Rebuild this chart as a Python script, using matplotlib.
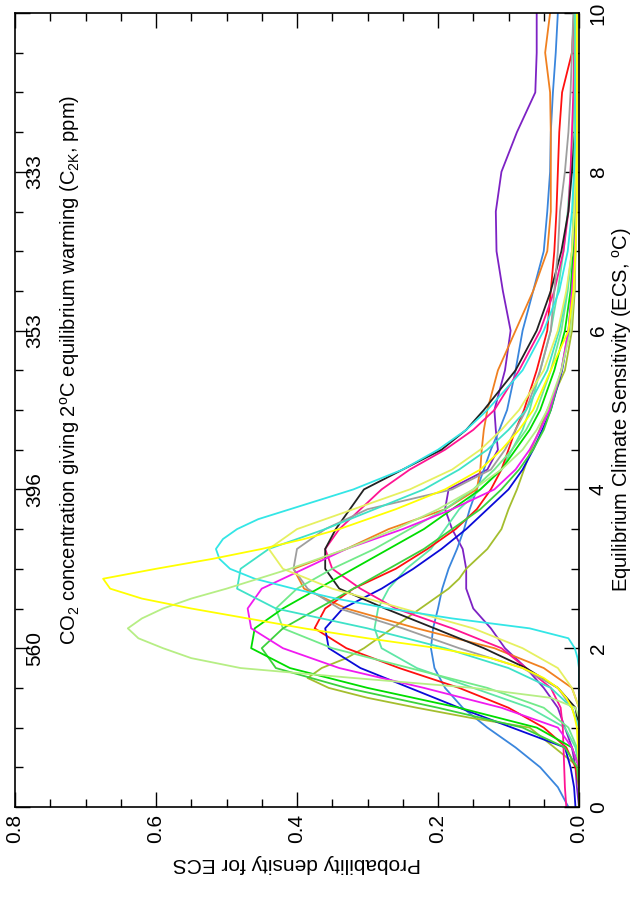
import matplotlib
matplotlib.use('Agg')
import matplotlib.pyplot as plt
import numpy as np
from matplotlib.ticker import MultipleLocator

plt.rcParams['font.family'] = ['Liberation Sans', 'DejaVu Sans']
plt.rcParams['mathtext.fontset'] = 'custom'
plt.rcParams['mathtext.rm'] = 'Liberation Sans'
plt.rcParams['mathtext.it'] = 'Liberation Sans:italic'

# ECS grids (degC): a coarse one, and a finer one for the sharply peaked curves
ecs = [0, 0.25, 0.5, 0.75, 1.0, 1.25, 1.5, 1.75, 2.0, 2.25, 2.5, 2.75, 3.0, 3.25,
       3.5, 3.75, 4.0, 4.25, 4.5, 4.75, 5.0, 5.5, 6.0, 6.5, 7.0, 7.5, 8.0, 8.5,
       9.0, 9.5, 10.0]
ecs_fine = [0, 0.5, 1.0, 1.125, 1.25, 1.375, 1.5, 1.625, 1.75, 1.875, 2.0,
            2.125, 2.25, 2.375, 2.5, 2.625, 2.75, 2.875, 3.0,
            3.125, 3.25, 3.375, 3.5, 3.625, 3.75, 3.875, 4.0,
            4.25, 4.5, 4.75, 5.0, 5.5, 6.0, 6.5, 7.0, 7.5, 8.0, 8.5, 9.0, 9.5, 10.0]

# probability densities, one list per curve
purple = [0, 0.003, 0.005, 0.01, 0.02, 0.03, 0.05, 0.075, 0.105, 0.125, 0.15, 0.16, 0.16, 0.165,
          0.18, 0.19, 0.185, 0.13, 0.115, 0.118, 0.12, 0.105, 0.097, 0.108, 0.117, 0.118, 0.11, 0.088,
          0.062, 0.06, 0.06]
dodger = [0.015, 0.03, 0.055, 0.09, 0.13, 0.165, 0.19, 0.205, 0.21, 0.207, 0.2, 0.194, 0.185, 0.173,
          0.163, 0.155, 0.145, 0.135, 0.125, 0.113, 0.102, 0.09, 0.08, 0.065, 0.05, 0.045, 0.041, 0.04,
          0.037, 0.033, 0.03]
mint = [0, 0, 0, 0.005, 0.02, 0.07, 0.15, 0.23, 0.28, 0.29, 0.285, 0.27, 0.245, 0.21,
        0.19, 0.17, 0.14, 0.11, 0.095, 0.08, 0.07, 0.055, 0.04, 0.03, 0.022, 0.016, 0.012, 0.009,
        0.007, 0.006, 0.005]
orange = [0, 0, 0, 0, 0, 0, 0.01, 0.05, 0.12, 0.23, 0.33, 0.39, 0.405, 0.33,
          0.27, 0.19, 0.145, 0.14, 0.138, 0.135, 0.13, 0.115, 0.09, 0.065, 0.045, 0.04, 0.04, 0.04,
          0.041, 0.048, 0.041]
red = [0, 0, 0.005, 0.018, 0.05, 0.1, 0.17, 0.255, 0.33, 0.375, 0.36, 0.32, 0.26, 0.215,
       0.175, 0.145, 0.125, 0.11, 0.1, 0.09, 0.078, 0.06, 0.045, 0.04, 0.035, 0.032, 0.03, 0.028,
       0.024, 0.01, 0.007]
blue = [0.005, 0.007, 0.012, 0.02, 0.095, 0.17, 0.24, 0.31, 0.355, 0.36, 0.335, 0.28, 0.235, 0.195,
        0.16, 0.13, 0.1, 0.08, 0.065, 0.052, 0.04, 0.024, 0.014, 0.009, 0.006, 0.004, 0.004, 0.004,
        0.004, 0.004, 0.004]
pink = [0.018, 0.02, 0.021, 0.022, 0.023, 0.026, 0.04, 0.075, 0.11, 0.18, 0.26, 0.31, 0.35, 0.36,
        0.34, 0.31, 0.28, 0.24, 0.19, 0.15, 0.12, 0.085, 0.055, 0.035, 0.022, 0.015, 0.012, 0.01,
        0.008, 0.007, 0.006]
black = [0, 0, 0, 0, 0, 0.005, 0.03, 0.075, 0.135, 0.205, 0.275, 0.34, 0.36, 0.36,
         0.345, 0.325, 0.305, 0.25, 0.195, 0.16, 0.135, 0.09, 0.06, 0.04, 0.025, 0.015, 0.01, 0.006,
         0.005, 0.005, 0.005]
grey = [0, 0, 0, 0, 0, 0.01, 0.03, 0.08, 0.17, 0.25, 0.34, 0.385, 0.405, 0.4,
        0.36, 0.3, 0.18, 0.125, 0.105, 0.09, 0.075, 0.055, 0.04, 0.035, 0.03, 0.027, 0.02, 0.015,
        0.012, 0.01, 0.008]
lightgreen2 = [0, 0, 0, 0.003, 0.015, 0.05, 0.13, 0.24, 0.35, 0.42, 0.43, 0.4, 0.35, 0.29,
               0.24, 0.19, 0.15, 0.12, 0.095, 0.075, 0.06, 0.04, 0.025, 0.016, 0.01, 0.008, 0.007, 0.006,
               0.006, 0.006, 0.006]
green2 = [0, 0, 0.003, 0.02, 0.08, 0.2, 0.33, 0.43, 0.45, 0.42, 0.37, 0.32, 0.27, 0.22,
          0.18, 0.14, 0.11, 0.085, 0.065, 0.05, 0.04, 0.025, 0.015, 0.01, 0.007, 0.005, 0.004, 0.003,
          0.003, 0.003, 0.003]
green = [0, 0, 0, 0.01, 0.06, 0.17, 0.3, 0.41, 0.465, 0.46, 0.42, 0.37, 0.32, 0.27,
         0.22, 0.18, 0.14, 0.11, 0.09, 0.07, 0.055, 0.035, 0.02, 0.012, 0.008, 0.005, 0.004, 0.003,
         0.003, 0.003, 0.003]
magenta = [0, 0, 0, 0.01, 0.03, 0.11, 0.22, 0.34, 0.42, 0.465, 0.47, 0.45, 0.39, 0.33,
           0.25, 0.18, 0.12, 0.09, 0.07, 0.055, 0.042, 0.025, 0.015, 0.01, 0.006, 0.004, 0.004, 0.003,
           0.003, 0.003, 0.003]
turquoise = [0, 0, 0, 0, 0, 0.01, 0.04, 0.1, 0.19, 0.3, 0.43, 0.485, 0.48, 0.44,
             0.36, 0.29, 0.22, 0.17, 0.13, 0.1, 0.075, 0.045, 0.028, 0.017, 0.01, 0.007, 0.005, 0.005,
             0.005, 0.005, 0.005]
paleyellow = [0, 0, 0, 0, 0, 0, 0.01, 0.03, 0.08, 0.15, 0.25, 0.35, 0.42, 0.44,
              0.4, 0.32, 0.24, 0.18, 0.14, 0.11, 0.085, 0.05, 0.03, 0.018, 0.01, 0.007, 0.005, 0.005,
              0.004, 0.004, 0.004]

# sharply peaked curves, on the fine grid
olive = [0, 0, 0.07, 0.155, 0.23, 0.3, 0.355, 0.385, 0.365, 0.33, 0.305,
         0.285, 0.265, 0.245, 0.225, 0.205, 0.185, 0.17, 0.16,
         0.145, 0.13, 0.12, 0.11, 0.105, 0.1, 0.094, 0.088,
         0.078, 0.068, 0.056, 0.045, 0.02, 0.01, 0.006, 0.005, 0.004, 0.004, 0.003, 0.003, 0.003, 0.003]
cyan = [0, 0, 0, 0, 0, 0, 0, 0, 0, 0.002, 0.006,
        0.015, 0.07, 0.18, 0.27, 0.345, 0.405, 0.46, 0.495,
        0.51, 0.515, 0.505, 0.485, 0.455, 0.41, 0.365, 0.32,
        0.25, 0.2, 0.16, 0.13, 0.08, 0.05, 0.028, 0.016, 0.01, 0.007, 0.005, 0.005, 0.004, 0.004]
palegreen = [0, 0, 0, 0, 0.005, 0.04, 0.15, 0.32, 0.48, 0.55, 0.59,
             0.625, 0.64, 0.62, 0.59, 0.55, 0.5, 0.455, 0.41,
             0.37, 0.33, 0.295, 0.26, 0.23, 0.2, 0.175, 0.15,
             0.11, 0.08, 0.06, 0.045, 0.025, 0.012, 0.007, 0.005, 0.004, 0.003, 0.003, 0.003, 0.003, 0.003]
yellow = [0, 0, 0.003, 0.006, 0.01, 0.018, 0.03, 0.05, 0.08, 0.125, 0.2,
          0.3, 0.39, 0.47, 0.55, 0.62, 0.665, 0.675, 0.6,
          0.52, 0.45, 0.39, 0.34, 0.3, 0.26, 0.225, 0.19,
          0.14, 0.11, 0.085, 0.065, 0.04, 0.015, 0.008, 0.005, 0.003, 0.003, 0.003, 0.003, 0.003, 0.003]

curves = [
    (purple, ecs, '#7d22c4'), (dodger, ecs, '#3a86dd'), (olive, ecs_fine, '#a4be2e'),
    (mint, ecs, '#5fe6a6'), (orange, ecs, '#f08020'), (red, ecs, '#ff1010'),
    (blue, ecs, '#0a0ad8'), (pink, ecs, '#ff1493'), (black, ecs, '#222222'),
    (grey, ecs, '#9e9e9e'), (lightgreen2, ecs, '#72ea8a'), (green2, ecs, '#3cd23c'),
    (green, ecs, '#00dd00'), (magenta, ecs, '#f01af0'), (turquoise, ecs, '#3ee2c8'),
    (paleyellow, ecs, '#e6f060'), (cyan, ecs_fine, '#33e6e6'), (palegreen, ecs_fine, '#b6ee84'),
    (yellow, ecs_fine, '#ffff00'),
]

# top (CO2) axis labels at ECS positions
co2_pos = [2, 4, 6, 8]
co2_labels = ['560', '396', '353', '333']

fig = plt.figure(figsize=(6.36, 8.97), dpi=100)
ax = fig.add_axes([15 / 636, 1 - 807 / 897, (579 - 15) / 636, (807 - 13) / 897])

for dens, grid, col in curves:
    ax.plot(dens, grid, color=col, lw=1.3, solid_capstyle='round', solid_joinstyle='round')

ax.set_xlim(0.8, 0.0)
ax.set_ylim(0, 10)

# density axis (bottom / top)
ax.set_xticks([0.0, 0.2, 0.4, 0.6, 0.8])
ax.set_xticklabels(['0.0', '0.2', '0.4', '0.6', '0.8'], rotation=90, fontsize=15)
ax.xaxis.set_minor_locator(MultipleLocator(0.05))
ax.tick_params(axis='x', which='both', direction='in', top=True, bottom=True, pad=5)

# ECS axis (right), CO2 axis (left, labels drawn inside)
ax.yaxis.tick_right()
ax.yaxis.set_label_position('right')
ax.set_yticks([0, 2, 4, 6, 8, 10])
ax.set_yticklabels(['0', '2', '4', '6', '8', '10'], rotation=90, va='center', fontsize=15)
ax.yaxis.set_minor_locator(MultipleLocator(0.5))
ax.tick_params(axis='y', which='both', direction='in', left=True, right=True, pad=7)
ax.tick_params(which='major', length=11, width=1)
ax.tick_params(which='minor', length=6, width=1)

for sp in ax.spines.values():
    sp.set_linewidth(1.2)

ax.set_xlabel('Probability density for ECS', fontsize=15, rotation=180, labelpad=8)
ax.set_ylabel('Equilibrium Climate Sensitivity (ECS, $^{\\rm o}$C)', fontsize=14.5,
              rotation=90, labelpad=2)

for p, lab in zip(co2_pos, co2_labels):
    ax.text(0.772, p, lab, rotation=90, ha='center', va='center', fontsize=15)
ax.text(0.722, 5.5,
        'CO$_2$ concentration giving 2$^{\\rm o}$C equilibrium warming (C$_{\\rm 2K}$, ppm)',
        rotation=90, ha='center', va='center', fontsize=14.5)

fig.savefig('out.png', dpi=100)
